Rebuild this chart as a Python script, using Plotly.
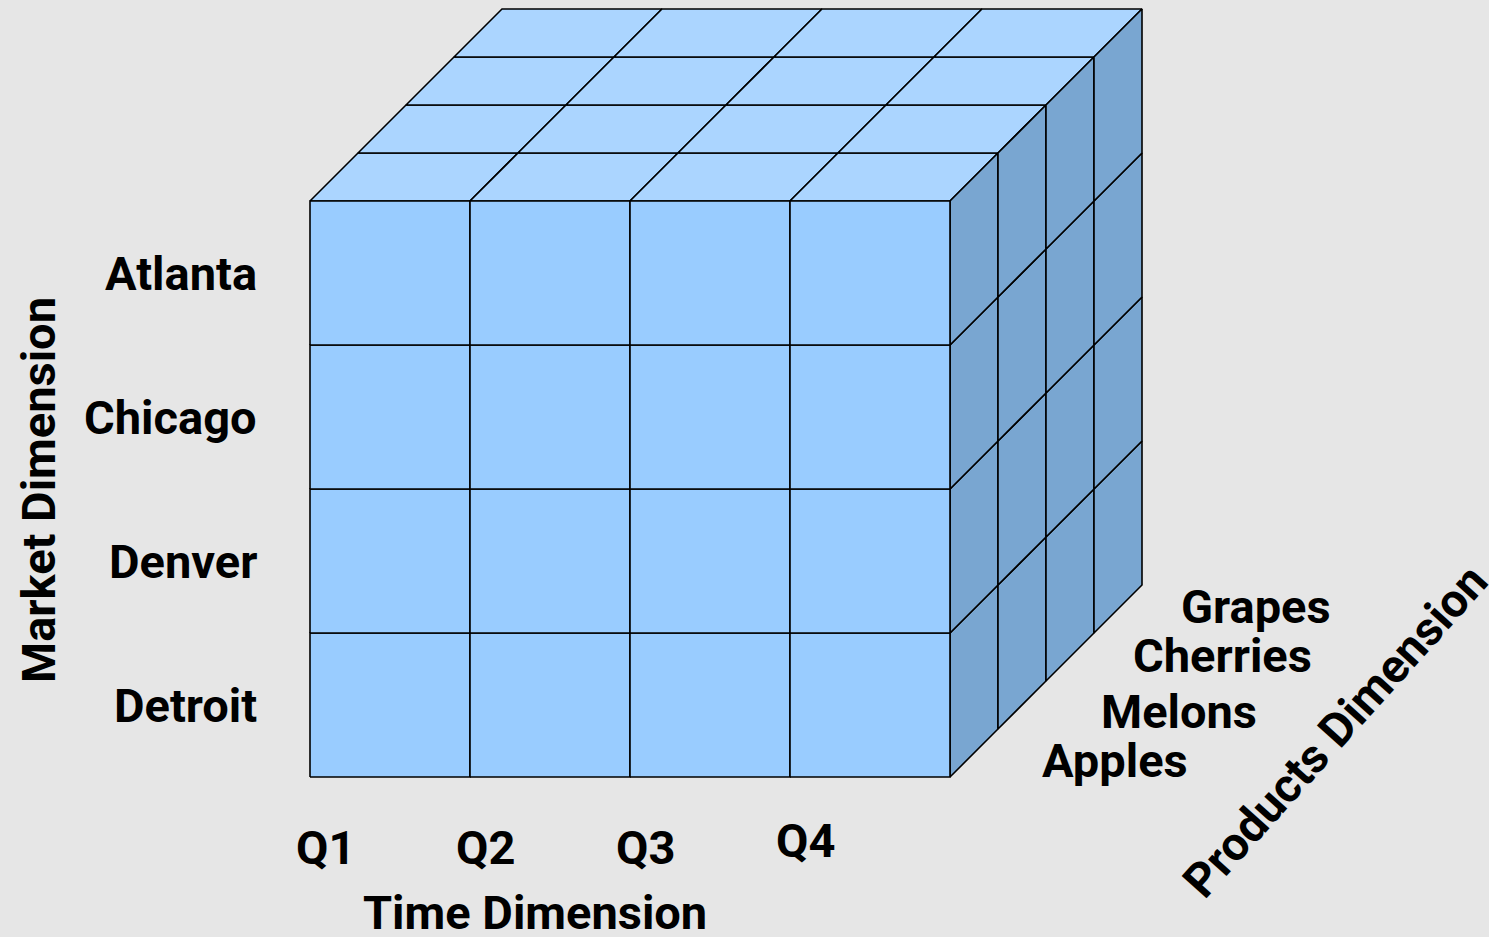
import plotly.graph_objects as go

# Cube dimensions
quarters = ["Q1", "Q2", "Q3", "Q4"]
markets = ["Detroit", "Denver", "Chicago", "Atlanta"]  # bottom to top
products = ["Apples", "Melons", "Cherries", "Grapes"]  # front to back

time_title = "Time Dimension"
market_title = "Market Dimension"
product_title = "Products Dimension"

# Oblique projection: one depth step shifts right/up by this much (cell units)
DX, DY = 0.3, 1 / 3

FRONT = "#99CCFF"
TOP = "#ABD5FF"
SIDE = "#79A6D1"
EDGE = "#000000"
BG = "#E6E6E6"
FONT = dict(family="Roboto, Liberation Sans, Arial",
            size=47, color="#000000", weight="bold")

nq, nm, npd = len(quarters), len(markets), len(products)


def proj(x, y, d):
    return x + d * DX, y + d * DY


def poly(pts, color):
    xs = [p[0] for p in pts] + [pts[0][0]]
    ys = [p[1] for p in pts] + [pts[0][1]]
    return go.Scatter(x=xs, y=ys, mode="lines", fill="toself", fillcolor=color,
                      line=dict(color=EDGE, width=1.6), hoverinfo="skip",
                      showlegend=False)


traces = []
# top face: quarters x products
for i in range(nq):
    for k in range(npd):
        pts = [proj(i, nm, k), proj(i + 1, nm, k), proj(i + 1, nm, k + 1), proj(i, nm, k + 1)]
        traces.append(poly(pts, TOP))
# right face: markets x products
for j in range(nm):
    for k in range(npd):
        pts = [proj(nq, j, k), proj(nq, j, k + 1), proj(nq, j + 1, k + 1), proj(nq, j + 1, k)]
        traces.append(poly(pts, SIDE))
# front face: quarters x markets
for i in range(nq):
    for j in range(nm):
        pts = [(i, j), (i + 1, j), (i + 1, j + 1), (i, j + 1)]
        traces.append(poly(pts, FRONT))

fig = go.Figure(traces)

ann = []
for j, m in enumerate(markets):
    ann.append(dict(x=-0.32, y=j + 0.5, text=m, xanchor="right", yanchor="middle"))
for i, q in enumerate(quarters):
    yoff = -0.44 if i == nq - 1 else -0.49
    ann.append(dict(x=i + 0.095, y=yoff, text=q, xanchor="center", yanchor="middle"))
# product labels step along the depth diagonal
prod_x = [4.5625, 4.93, 5.13, 5.43]
prod_y = [0.118, 0.458, 0.847, 1.181]
for k, p in enumerate(products):
    ann.append(dict(x=prod_x[k], y=prod_y[k], text=p, xanchor="left", yanchor="middle"))
ann.append(dict(x=1.406, y=-0.944, text=time_title, xanchor="center", yanchor="middle"))
ann.append(dict(x=-1.7, y=1.993, text=market_title, textangle=-90,
                xanchor="center", yanchor="middle"))
ann.append(dict(x=6.406, y=0.326, text=product_title, textangle=-48,
                xanchor="center", yanchor="middle"))
for a in ann:
    a.update(showarrow=False, font=FONT, xref="x", yref="y")

fig.update_layout(
    width=1489, height=937,
    margin=dict(l=0, r=0, t=0, b=0),
    paper_bgcolor=BG, plot_bgcolor=BG,
    annotations=ann,
    xaxis=dict(range=[-310 / 160, (1489 - 310) / 160], visible=False, fixedrange=True),
    yaxis=dict(range=[-160 / 144, 777 / 144], visible=False, fixedrange=True),
)

fig.write_html("out.html")
